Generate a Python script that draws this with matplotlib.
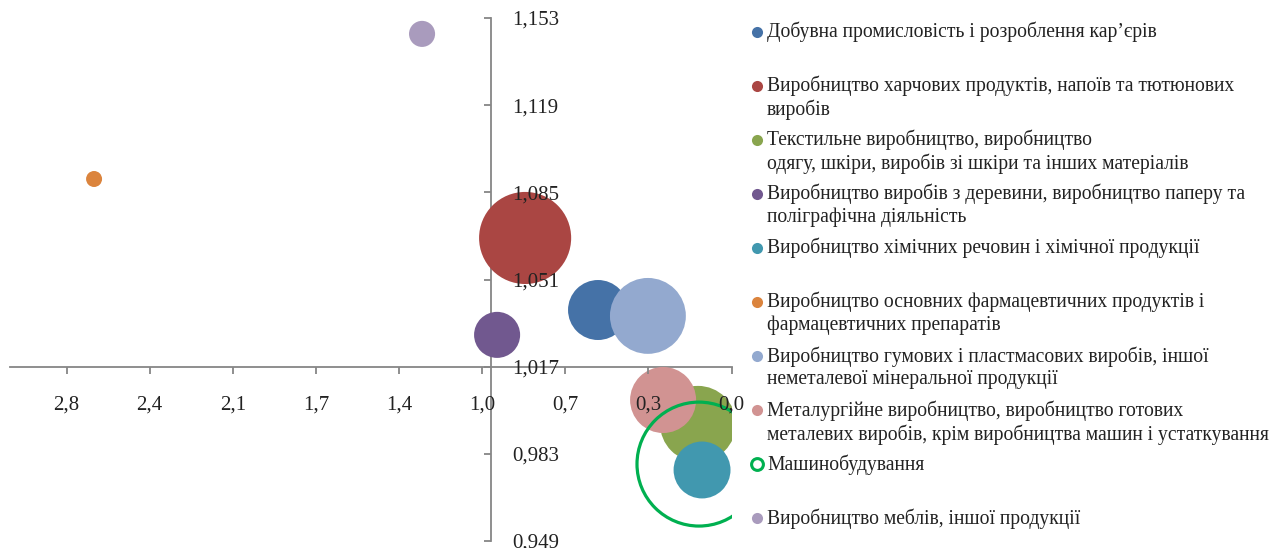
import numpy as np
import matplotlib
matplotlib.use("Agg")
import matplotlib.pyplot as plt
from matplotlib.lines import Line2D

plt.rcParams['font.family'] = ['Liberation Serif', 'DejaVu Serif']

# Data (x = index on reversed axis, y = index, size = bubble size)
labels = [
    "Добувна промисловість і розроблення кар’єрів",
    "Виробництво харчових продуктів, напоїв та тютюнових\nвиробів",
    "Текстильне виробництво, виробництво\nодягу, шкіри, виробів зі шкіри та інших матеріалів",
    "Виробництво виробів з деревини, виробництво паперу та\nполіграфічна діяльність",
    "Виробництво хімічних речовин і хімічної продукції",
    "Виробництво основних фармацевтичних продуктів і\nфармацевтичних препаратів",
    "Виробництво гумових і пластмасових виробів, іншої\nнеметалевої мінеральної продукції",
    "Металургійне виробництво, виробництво готових\nметалевих виробів, крім виробництва машин і устаткування",
    "Машинобудування",
    "Виробництво меблів, іншої продукції",
]
x_vals = [0.562, 0.869, 0.141, 0.987, 0.124, 2.684, 0.352, 0.288, 0.137, 1.303]
y_vals = [1.0391, 1.0672, 0.9947, 1.0294, 0.9767, 1.0902, 1.0368, 1.0040, 0.9790, 1.1468]
sizes = [9.0, 21.2, 14.4, 5.3, 8.1, 0.64, 14.4, 10.9, 38.4, 1.7]
colors = ['#4572A7', '#AA4643', '#89A54E', '#71588F', '#4198AF',
          '#DB843D', '#93A9CF', '#D19392', '#00B050', '#A99BBD']
hollow = [False] * 8 + [True, False]

x_ticks = [0.0, 0.35, 0.7, 1.05, 1.4, 1.75, 2.1, 2.45, 2.8]
x_ticklabels = ['0,0', '0,3', '0,7', '1,0', '1,4', '1,7', '2,1', '2,4', '2,8']
y_ticks = [0.949, 0.983, 1.017, 1.051, 1.085, 1.119, 1.153]
y_ticklabels = ['0,949', '0,983', '1,017', '1,051', '1,085', '1,119', '1,153']

DPI = 100
fig = plt.figure(figsize=(12.84, 5.48), dpi=DPI)
ax = fig.add_axes([10 / 1284, 1 - 541 / 548, (731.5 - 10) / 1284, (541 - 18) / 548])

for i in range(len(labels)):
    r_px = np.sqrt(sizes[i] * 100)
    s = (2 * r_px * 72 / DPI) ** 2
    if hollow[i]:
        ax.scatter(x_vals[i], y_vals[i], s=s, facecolors='none',
                   edgecolors=colors[i], linewidths=2.3, zorder=3)
    else:
        ax.scatter(x_vals[i], y_vals[i], s=s, color=colors[i],
                   edgecolors='none', zorder=2)

ax.set_xlim(3.038, 0)
ax.set_ylim(0.949, 1.153)

axis_gray = '#868686'
ax.spines['top'].set_visible(False)
ax.spines['left'].set_visible(False)
ax.spines['right'].set_position(('data', 1.013))
ax.spines['bottom'].set_position(('data', 1.017))
for sp in ('right', 'bottom'):
    ax.spines[sp].set_color(axis_gray)
    ax.spines[sp].set_linewidth(1.3)
    ax.spines[sp].set_zorder(0.5)

ax.yaxis.tick_right()
ax.set_xticks(x_ticks)
ax.set_xticklabels(x_ticklabels)
ax.set_yticks(y_ticks)
ax.set_yticklabels(y_ticklabels)
ax.tick_params(axis='x', direction='out', length=5, width=1.3, color=axis_gray,
               pad=16, labelsize=15, labelcolor='#222222')
ax.tick_params(axis='y', direction='in', length=5, width=1.3, color=axis_gray,
               pad=15, labelsize=15, labelcolor='#222222')
for lab in ax.get_yticklabels():
    lab.set_horizontalalignment('left')
ax.xaxis.set_zorder(5)
ax.yaxis.set_zorder(5)
ax.patch.set_alpha(0)

# legend drawn entry by entry (first line aligned with marker)
leg_y0, leg_step = 31.5, 54.1
for i, lab in enumerate(labels):
    y_px = leg_y0 + leg_step * i
    yf = 1 - y_px / 548
    if hollow[i]:
        fig.add_artist(Line2D([757 / 1284], [yf], marker='o', markersize=8.5,
                              markerfacecolor='white', markeredgecolor=colors[i],
                              markeredgewidth=2.2, transform=fig.transFigure))
    else:
        fig.add_artist(Line2D([757 / 1284], [yf], marker='o', markersize=8,
                              color=colors[i], markeredgewidth=0, transform=fig.transFigure))
    fig.text(767 / 1284, 1 - (y_px - 10) / 548, lab, fontsize=14.1, va='top', ha='left',
             color='#222222', linespacing=1.22)

fig.savefig('out.png', dpi=DPI)
